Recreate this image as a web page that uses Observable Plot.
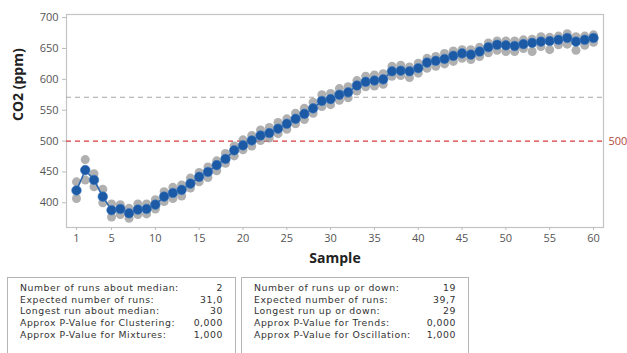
<!DOCTYPE html>
<html>
<head>
<meta charset="utf-8">
<script src="https://cdn.jsdelivr.net/npm/d3@7"></script>
<script src="https://cdn.jsdelivr.net/npm/@observablehq/plot@0.6"></script>
<style>
  html, body { margin: 0; padding: 0; background: #fff; }
  #wrap { position: relative; width: 627px; height: 353px; overflow: hidden; font-family: "Open Sans", sans-serif; }
  .box { position: absolute; top: 277px; height: 90px; border: 1px solid #b5b5b5; box-sizing: border-box; padding-top: 4px; }
  .row { display: flex; justify-content: space-between; height: 11.7px; line-height: 11.7px; font-family: "DejaVu Sans", sans-serif; font-size: 9.3px; letter-spacing: 0.55px; color: #333; padding: 0 12px 0 12px; white-space: nowrap; }
</style>
</head>
<body>
<div id="wrap">
  <div id="chart"></div>
  <div class="box" id="box1" style="left:7px; width:229px;"></div>
  <div class="box" id="box2" style="left:241px; width:228px;"></div>
</div>
<script>
// Subgroup means per sample (blue)
const meanValues = [420,453,437,410,388,390,383,389,390,397,
  410,416,421,431,442,450,461,471,485,493,
  501,509,513,520,528,536,544,553,565,568,
  575,579,590,596,598,600,613,614,613,618,
  627,630,633,638,642,640,645,652,656,655,
  654,657,659,661,662,664,667,661,664,667];
// Individual observations (gray): high and low per sample
const highValues = [434,470,447,422,398,397,391,398,398,405,
  418,425,429,440,449,458,468,480,492,502,
  509,518,522,530,536,545,553,563,575,577,
  585,588,598,605,607,609,621,623,620,626,
  634,637,642,646,648,648,652,659,662,662,
  662,664,665,669,668,670,674,669,670,672];
const lowValues = [407,437,426,400,377,381,375,381,382,390,
  402,407,411,424,434,441,452,464,476,486,
  492,501,505,512,519,528,535,545,556,559,
  566,570,581,588,589,592,605,606,603,610,
  618,621,625,629,634,632,637,643,647,645,
  645,650,645,653,648,656,657,647,655,660];
const medianValue = 571;
const targetValue = 500;
const xTicks = [1,5,10,15,20,25,30,35,40,45,50,55,60];
const yTicks = [400,450,500,550,600,650,700];
const statsLeft = [
  ["Number of runs about median:", "2"],
  ["Expected number of runs:", "31,0"],
  ["Longest run about median:", "30"],
  ["Approx P-Value for Clustering:", "0,000"],
  ["Approx P-Value for Mixtures:", "1,000"]
];
const statsRight = [
  ["Number of runs up or down:", "19"],
  ["Expected number of runs:", "39,7"],
  ["Longest run up or down:", "29"],
  ["Approx P-Value for Trends:", "0,000"],
  ["Approx P-Value for Oscillation:", "1,000"]
];

const means = meanValues.map((v, i) => ({sample: i + 1, value: v}));
const grays = [];
highValues.forEach((v, i) => grays.push({sample: i + 1, value: v}));
lowValues.forEach((v, i) => grays.push({sample: i + 1, value: v}));

const chart = Plot.plot({
  width: 627,
  height: 275,
  marginLeft: 66,
  marginRight: 24,
  marginTop: 14,
  marginBottom: 48,
  style: {fontFamily: "'Open Sans', sans-serif", fontSize: "11px", color: "#555", background: "#fff"},
  x: {domain: [-0.14, 61.14]},
  y: {domain: [360, 705]},
  marks: [
    Plot.frame({stroke: "#c4c4c4", strokeWidth: 1.2}),
    Plot.ruleY([medianValue], {stroke: "#a8a8a8", strokeWidth: 1.2, strokeDasharray: "5,4"}),
    Plot.ruleY([targetValue], {stroke: "#d93a3a", strokeWidth: 1.2, strokeDasharray: "5,4"}),
    Plot.text([targetValue], {y: d => d, frameAnchor: "right", dx: 5, textAnchor: "start", text: d => String(d), fill: "#b24a3a", fontSize: 11}),
    Plot.dot(grays, {x: "sample", y: "value", r: 4.5, fill: "#8f8f8f", fillOpacity: 0.7, stroke: "none"}),
    Plot.line(means, {x: "sample", y: "value", stroke: "#2a66b0", strokeWidth: 1.5}),
    Plot.dot(means, {x: "sample", y: "value", r: 4.8, fill: "#1c5aa5", stroke: "#3d78c0", strokeWidth: 0.6}),
    Plot.axisX({ticks: xTicks, tickSize: 3, tickPadding: 4, label: null, stroke: "#bbb", fill: "#555"}),
    Plot.axisY({ticks: yTicks, tickSize: 4, tickPadding: 4, label: null, stroke: "#bbb", fill: "#555"}),
    Plot.text(["CO2 (ppm)"], {frameAnchor: "left", dx: -48, rotate: -90, text: d => d, fontSize: 14, fontWeight: "bold", fill: "#222"}),
    Plot.text(["Sample"], {frameAnchor: "bottom", dy: 35, text: d => d, fontSize: 14, fontWeight: "bold", fill: "#222"})
  ]
});
document.getElementById("chart").appendChild(chart);

function fill(id, rows) {
  const box = document.getElementById(id);
  rows.forEach(([label, val]) => {
    const r = document.createElement("div");
    r.className = "row";
    const a = document.createElement("span"); a.textContent = label;
    const b = document.createElement("span"); b.textContent = val;
    r.appendChild(a); r.appendChild(b);
    box.appendChild(r);
  });
}
fill("box1", statsLeft);
fill("box2", statsRight);
</script>
</body>
</html>
